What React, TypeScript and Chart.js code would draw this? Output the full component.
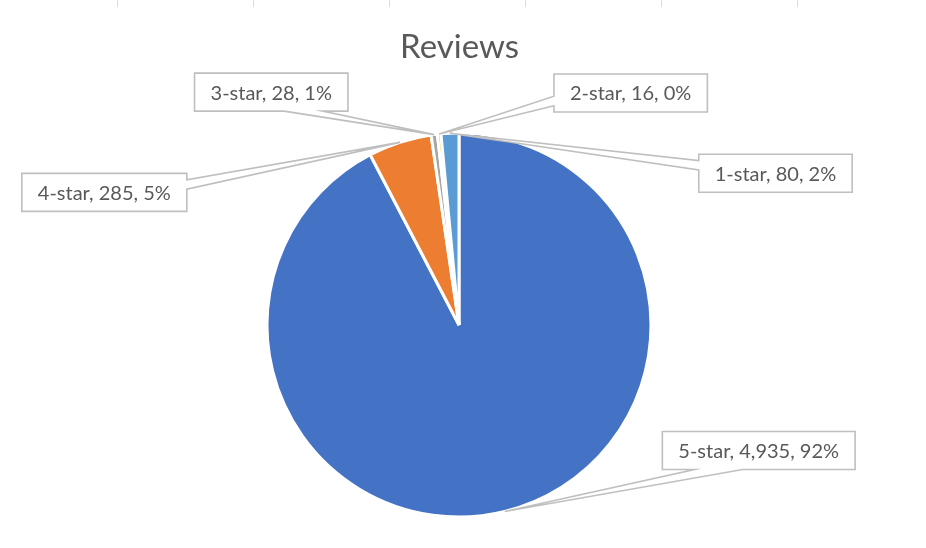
import React, { useEffect, useRef } from "react";
import { Chart, registerables } from "chart.js";

Chart.register(...registerables);

// ---- data ----
const chartTitle = "Reviews";
const categories = ["5-star", "4-star", "3-star", "2-star", "1-star"];
const reviewCounts = [4935, 285, 28, 16, 80];
const percentLabels = ["92%", "5%", "1%", "0%", "2%"];
const sliceColors = ["#4472C4", "#ED7D31", "#A5A5A5", "#FFC000", "#5B9BD5"];

// ---- layout / style ----
const WIDTH = 926;
const HEIGHT = 548;
const FONT = "Lato, 'Open Sans', sans-serif";
const TEXT_COLOR = "#595959";
const LABEL_FONT_SIZE = 20;
const TITLE_FONT_SIZE = 33;
const BOX_PAD_X = 16;
const BOX_H = 38;
// callout box centre offsets relative to the slice's outer mid point
const calloutOffsets: [number, number][] = [
  [254, -61],
  [-295.5, 50],
  [-163, -42.5],
  [191.5, -41],
  [325.5, 40],
];
const sheetGridXs = [117, 253, 389, 525, 661, 797];

const backgroundPlugin = {
  id: "sheetBackground",
  beforeDraw(chart: any) {
    const ctx = chart.ctx;
    ctx.save();
    ctx.fillStyle = "#ffffff";
    ctx.fillRect(0, 0, chart.width, chart.height);
    ctx.strokeStyle = "#dcdcdc";
    ctx.lineWidth = 1;
    sheetGridXs.forEach((gx) => {
      ctx.beginPath();
      ctx.moveTo(gx + 0.5, 0);
      ctx.lineTo(gx + 0.5, 7);
      ctx.stroke();
    });
    ctx.restore();
  },
};

const titlePlugin = {
  id: "excelTitle",
  afterDraw(chart: any) {
    const ctx = chart.ctx;
    ctx.save();
    ctx.font = `${TITLE_FONT_SIZE}px ${FONT}`;
    ctx.fillStyle = TEXT_COLOR;
    ctx.textAlign = "center";
    ctx.textBaseline = "alphabetic";
    ctx.fillText(chartTitle, 459.5, 57.5);
    ctx.restore();
  },
};

const calloutPlugin = {
  id: "callouts",
  afterDatasetsDraw(chart: any) {
    const ctx = chart.ctx;
    const meta = chart.getDatasetMeta(0);
    ctx.save();
    ctx.font = `${LABEL_FONT_SIZE}px ${FONT}`;
    meta.data.forEach((arc: any, i: number) => {
      const { x, y, startAngle, endAngle, outerRadius } = arc.getProps(
        ["x", "y", "startAngle", "endAngle", "outerRadius"],
        true
      );
      const mid = (startAngle + endAngle) / 2;
      const tx = x + Math.cos(mid) * outerRadius;
      const ty = y + Math.sin(mid) * outerRadius;
      const text = `${categories[i]}, ${reviewCounts[i].toLocaleString("en-US")}, ${percentLabels[i]}`;
      const tw = ctx.measureText(text).width;
      const w = tw + 2 * BOX_PAD_X;
      const h = BOX_H;
      const off = calloutOffsets[i];
      const cx = tx + off[0];
      const cy = ty + off[1];
      const l = cx - w / 2;
      const t = cy - h / 2;
      const r = l + w;
      const b = t + h;
      const dxPos = tx - cx;
      const dyPos = ty - cy;
      const horiz = Math.abs(dxPos) * h > Math.abs(dyPos) * w;
      const x1 = l + (w * (dxPos > 0 ? 7 : 2)) / 12;
      const x2 = l + (w * (dxPos > 0 ? 10 : 5)) / 12;
      const y1 = t + (h * (dyPos > 0 ? 7 : 2)) / 12;
      const y2 = t + (h * (dyPos > 0 ? 10 : 5)) / 12;

      ctx.beginPath();
      ctx.moveTo(l, t);
      if (!horiz && dyPos < 0) {
        ctx.lineTo(x1, t);
        ctx.lineTo(tx, ty);
        ctx.lineTo(x2, t);
      }
      ctx.lineTo(r, t);
      if (horiz && dxPos > 0) {
        ctx.lineTo(r, y1);
        ctx.lineTo(tx, ty);
        ctx.lineTo(r, y2);
      }
      ctx.lineTo(r, b);
      if (!horiz && dyPos > 0) {
        ctx.lineTo(x2, b);
        ctx.lineTo(tx, ty);
        ctx.lineTo(x1, b);
      }
      ctx.lineTo(l, b);
      if (horiz && dxPos < 0) {
        ctx.lineTo(l, y2);
        ctx.lineTo(tx, ty);
        ctx.lineTo(l, y1);
      }
      ctx.closePath();
      ctx.fillStyle = "#ffffff";
      ctx.fill();
      ctx.strokeStyle = "#BFBFBF";
      ctx.lineWidth = 1.6;
      ctx.lineJoin = "miter";
      ctx.stroke();

      ctx.fillStyle = TEXT_COLOR;
      ctx.textAlign = "center";
      ctx.textBaseline = "middle";
      ctx.fillText(text, cx, cy + 1);
    });
    ctx.restore();
  },
};

export default function App() {
  const canvasRef = useRef<HTMLCanvasElement | null>(null);

  useEffect(() => {
    const canvas = canvasRef.current;
    if (!canvas) return;
    const chart = new Chart(canvas, {
      type: "pie",
      data: {
        labels: categories,
        datasets: [
          {
            data: reviewCounts,
            backgroundColor: sliceColors,
            borderColor: "#ffffff",
            borderWidth: 3,
            hoverOffset: 0,
          },
        ],
      },
      options: {
        responsive: false,
        animation: false,
        radius: 192,
        layout: {
          padding: { left: 268, right: 276, top: 134, bottom: 32 },
        },
        plugins: {
          legend: { display: false },
          tooltip: { enabled: false },
          title: { display: false },
        },
        events: [],
      } as any,
      plugins: [backgroundPlugin, calloutPlugin, titlePlugin],
    });
    return () => chart.destroy();
  }, []);

  return (
    <div
      style={{
        position: "absolute",
        left: 0,
        top: 0,
        width: WIDTH,
        height: HEIGHT,
        background: "#ffffff",
      }}
    >
      <canvas
        ref={canvasRef}
        width={WIDTH}
        height={HEIGHT}
        style={{ width: WIDTH, height: HEIGHT, display: "block" }}
      />
    </div>
  );
}
